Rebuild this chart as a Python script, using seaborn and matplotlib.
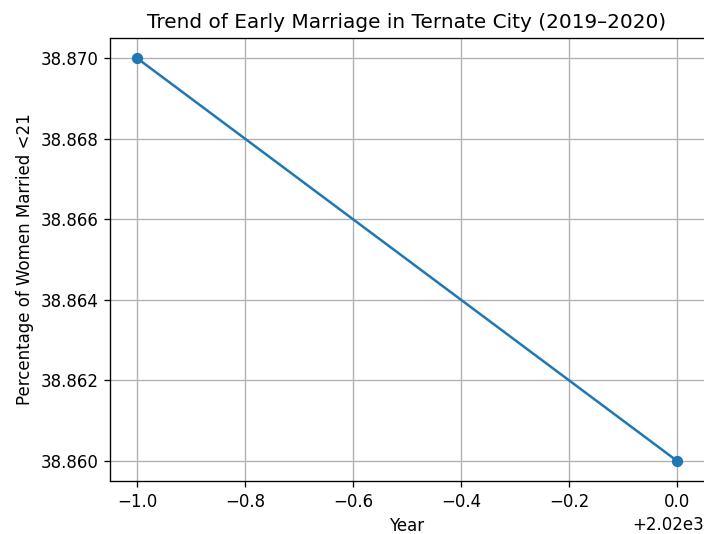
import matplotlib
matplotlib.use("Agg")
import matplotlib.pyplot as plt
import seaborn as sns
import pandas as pd

years = [2019, 2020]
pct_married_under21 = [38.87, 38.86]

df = pd.DataFrame({"Year": years, "Percentage": pct_married_under21})

W, H, DPI = 704, 534, 120
fig, ax = plt.subplots(figsize=(W / DPI, H / DPI), dpi=DPI)
sns.lineplot(data=df, x="Year", y="Percentage", marker="o", markersize=6,
             color="#1f77b4", markeredgecolor="#1f77b4", ax=ax)
ax.set_title("Trend of Early Marriage in Ternate City (2019\u20132020)")
ax.set_xlabel("Year")
ax.set_ylabel("Percentage of Women Married <21")
ax.grid(True)
# reference is cropped right at the right spine, so it doesn't show
ax.spines["right"].set_visible(False)
fig.subplots_adjust(left=110 / W, right=1.0, top=1 - 38 / H, bottom=1 - 481 / H)
fig.savefig("out.png", dpi=DPI)
